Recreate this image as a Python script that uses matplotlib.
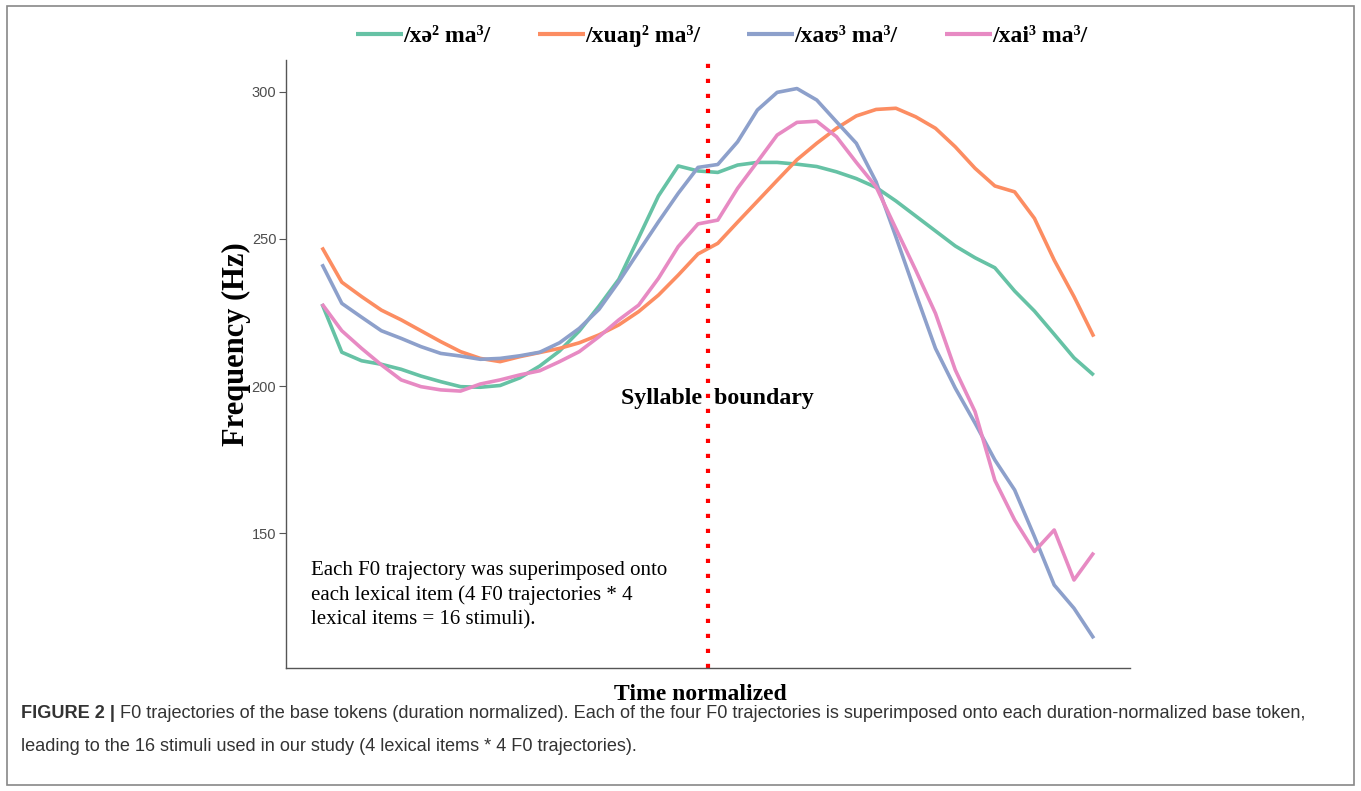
import numpy as np
import matplotlib
matplotlib.use('Agg')
import matplotlib.pyplot as plt
from matplotlib.patches import Rectangle

# time points (duration normalized), 40 samples
t = np.arange(1, 41)

f0_xe = [227.9, 211.5, 208.6, 207.4, 205.7, 203.4, 201.5, 199.8, 199.6, 200.2,
         202.8, 206.8, 211.9, 218.7, 227.2, 236.3, 250.4, 264.6, 274.8, 273.1,
         272.6, 275.1, 276.0, 276.0, 275.4, 274.6, 272.8, 270.5, 267.5, 262.9,
         257.8, 252.7, 247.6, 243.6, 240.2, 232.3, 225.5, 217.6, 209.6, 203.7]
f0_xuang = [247.1, 235.3, 230.4, 225.8, 222.5, 218.8, 215.1, 211.7, 209.4, 208.3,
            210.0, 211.4, 212.8, 214.7, 217.4, 220.8, 225.3, 230.9, 237.7, 244.9,
            248.5, 255.7, 262.8, 269.9, 276.9, 282.5, 287.6, 291.8, 294.0, 294.4,
            291.5, 287.6, 281.3, 274.0, 268.0, 266.0, 257.0, 242.8, 230.4, 216.8]
f0_xau = [241.4, 228.1, 223.4, 218.8, 216.2, 213.4, 211.1, 210.2, 209.1, 209.4,
          210.3, 211.5, 214.7, 219.6, 226.1, 235.5, 245.7, 255.8, 265.5, 274.3,
          275.3, 283.0, 293.8, 299.8, 301.1, 297.2, 289.8, 282.5, 269.4, 250.7,
          231.5, 212.8, 199.3, 187.4, 174.9, 164.7, 148.9, 132.4, 124.5, 114.3]
f0_xai = [227.9, 218.8, 212.8, 207.2, 202.1, 199.8, 198.7, 198.3, 200.7, 202.1,
          203.8, 205.2, 208.3, 211.7, 216.8, 222.5, 227.5, 236.6, 247.4, 255.1,
          256.4, 267.2, 276.2, 285.3, 289.6, 290.0, 284.7, 276.0, 267.7, 253.5,
          239.4, 224.7, 205.5, 191.3, 168.0, 154.5, 143.8, 151.1, 134.1, 143.4]

labels = ['/xə² ma³/', '/xuaŋ² ma³/', '/xaʊ³ ma³/', '/xai³ ma³/']
colors = ['#66C2A5', '#FC8D62', '#8DA0CB', '#E78AC3']
boundary = 20.5

serif = ['Liberation Serif', 'DejaVu Serif']
sans = ['Liberation Sans', 'DejaVu Sans']

fig = plt.figure(figsize=(13.61, 7.91), dpi=100)
ax = fig.add_axes([286 / 1361, 1 - 668 / 791, (1130 - 286) / 1361, (668 - 60) / 791])

for y, lab, c in zip([f0_xe, f0_xuang, f0_xau, f0_xai], labels, colors):
    ax.plot(t, y, color=c, lw=2.6, label=lab, solid_capstyle='butt')

ax.axvline(boundary, color='#FF0000', lw=3, linestyle=(0, (1, 2.6)), dash_capstyle='butt')

ax.set_xlim(-0.82, 41.83)
ax.set_ylim(104.2, 310.8)
ax.set_yticks([150, 200, 250, 300])
ax.set_xticks([])
for s in ['top', 'right']:
    ax.spines[s].set_visible(False)
for s in ['left', 'bottom']:
    ax.spines[s].set_color('#555555')
    ax.spines[s].set_linewidth(1)
ax.tick_params(axis='y', length=5, color='#555555', labelcolor='#4D4D4D', labelsize=10.5, pad=2)
for lb in ax.get_yticklabels():
    lb.set_family(sans)

ax.set_ylabel('Frequency (Hz)', family=serif, fontweight='bold', fontsize=22)
ax.yaxis.set_label_coords(-0.041, 0.533)
ax.set_xlabel('Time normalized', family=serif, fontweight='bold', fontsize=17)
ax.xaxis.set_label_coords(0.4905, -0.026)

ax.text(21.0, 195.8, 'Syllable  boundary', family=serif, fontweight='bold', fontsize=17.2,
        ha='center', va='center')
ax.text(0.45, 140.4, 'Each F0 trajectory was superimposed onto\n'
        'each lexical item (4 F0 trajectories * 4\n'
        'lexical items = 16 stimuli).',
        family=serif, fontsize=15, ha='left', va='top', linespacing=1.33)

leg = fig.legend(loc='center', bbox_to_anchor=(721.5 / 1361, 1 - 36 / 791), ncol=4,
                 frameon=False, handlelength=2.0, handletextpad=0.0, columnspacing=2.0,
                 prop={'family': serif, 'weight': 'bold', 'size': 17})
for h in leg.legend_handles:
    h.set_linewidth(3)

# figure frame and caption
fig.patches.append(Rectangle((7 / 1361, 6 / 791), 1347 / 1361, 779 / 791, transform=fig.transFigure,
                             fill=False, edgecolor='#888888', lw=1.2))
cap_size = 13.05
t1 = fig.text(21 / 1361, 1 - 713 / 791, 'FIGURE 2 |', family=sans, fontweight='bold',
              fontsize=cap_size, color='#333333', va='center', ha='left')
ax.annotate(' F0 trajectories of the base tokens (duration normalized). Each of the four F0 trajectories '
            'is superimposed onto each duration-normalized base token,',
            xy=(1, 0.5), xycoords=t1, va='center', ha='left', family=sans,
            fontsize=cap_size, color='#333333', annotation_clip=False)
fig.text(21 / 1361, 1 - 746.5 / 791, 'leading to the 16 stimuli used in our study (4 lexical items * 4 F0 trajectories).',
         family=sans, fontsize=cap_size, color='#333333', va='center', ha='left')

fig.savefig('out.png', dpi=100)
